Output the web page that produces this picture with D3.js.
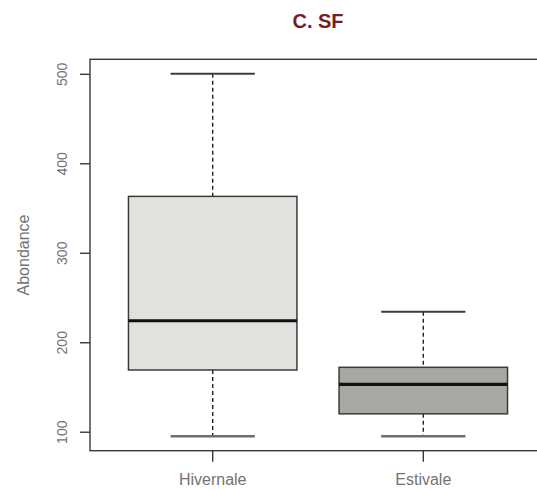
<!DOCTYPE html>
<html><head><meta charset="utf-8">
<script src="https://cdn.jsdelivr.net/npm/d3@7"></script>
<style>body{margin:0;background:#fff;} svg{display:block;}</style>
</head><body>
<script>
const categories = ["Hivernale", "Estivale"];
const whiskerLow = [95, 95];
const q1 = [169, 120];
const median = [224, 153];
const q3 = [363, 172];
const whiskerHigh = [500, 234];
const fills = ["#e1e1de", "#a9a7a3"];
const yTicks = [100, 200, 300, 400, 500];
const title = "C. SF";
const yLabel = "Abondance";

const W = 537, H = 490;
const svg = d3.select("body").append("svg").attr("width", W).attr("height", H);
const plot = {left: 90, right: 546, top: 59.3, bottom: 450.7};

const y = d3.scaleLinear().domain([78.8, 516.2]).range([plot.bottom, plot.top]);
const x = d3.scaleBand().domain(categories).range([107.4, 528.6]).paddingInner(0.2).paddingOuter(0.1);

const txt = "#737373", ink = "#3a3a3a";
const font = "'Liberation Sans', Arial, sans-serif";

// frame
svg.append("rect").attr("x", plot.left).attr("y", plot.top)
  .attr("width", plot.right - plot.left).attr("height", plot.bottom - plot.top)
  .attr("fill", "none").attr("stroke", ink).attr("stroke-width", 1.4);

// y axis
const yAxis = svg.append("g").attr("transform", `translate(${plot.left},0)`)
  .call(d3.axisLeft(y).tickValues(yTicks).tickSize(10).tickPadding(0).tickFormat(d3.format("d")));
yAxis.select(".domain").remove();
yAxis.selectAll(".tick line").attr("stroke", ink).attr("stroke-width", 1.4);
yAxis.selectAll(".tick text").attr("fill", txt).attr("font-family", font).attr("font-size", 14)
  .attr("text-anchor", "middle").attr("transform", "rotate(-90)").attr("x", 0).attr("y", -28).attr("dy", "0.35em");

// x axis
const xAxis = svg.append("g").attr("transform", `translate(0,${plot.bottom})`)
  .call(d3.axisBottom(x).tickSize(11).tickPadding(12));
xAxis.select(".domain").remove();
xAxis.selectAll(".tick line").attr("stroke", ink).attr("stroke-width", 1.4);
xAxis.selectAll(".tick text").attr("fill", txt).attr("font-family", font).attr("font-size", 16);

// boxes
const data = categories.map((c, i) => ({c, lo: whiskerLow[i], q1: q1[i], med: median[i], q3: q3[i], hi: whiskerHigh[i], fill: fills[i]}));
const g = svg.append("g");
data.forEach(d => {
  const cx = x(d.c) + x.bandwidth() / 2;
  const bw = x.bandwidth();
  const cap = bw / 2;
  // whiskers
  g.append("line").attr("x1", cx).attr("x2", cx).attr("y1", y(d.hi)).attr("y2", y(d.q3))
    .attr("stroke", "#222").attr("stroke-width", 1.4).attr("stroke-dasharray", "4,3");
  g.append("line").attr("x1", cx).attr("x2", cx).attr("y1", y(d.q1)).attr("y2", y(d.lo))
    .attr("stroke", "#222").attr("stroke-width", 1.4).attr("stroke-dasharray", "4,3");
  // caps
  g.append("line").attr("x1", cx - cap / 2).attr("x2", cx + cap / 2).attr("y1", y(d.hi)).attr("y2", y(d.hi))
    .attr("stroke", "#3c3c3c").attr("stroke-width", 2);
  g.append("line").attr("x1", cx - cap / 2).attr("x2", cx + cap / 2).attr("y1", y(d.lo)).attr("y2", y(d.lo))
    .attr("stroke", "#6e6e6e").attr("stroke-width", 2.6);
  // box
  g.append("rect").attr("x", cx - bw / 2).attr("width", bw).attr("y", y(d.q3)).attr("height", y(d.q1) - y(d.q3))
    .attr("fill", d.fill).attr("stroke", ink).attr("stroke-width", 1.5);
  // median
  g.append("line").attr("x1", cx - bw / 2).attr("x2", cx + bw / 2).attr("y1", y(d.med)).attr("y2", y(d.med))
    .attr("stroke", "#111").attr("stroke-width", 3.2);
});

// y label
svg.append("text").attr("transform", `translate(23,${(plot.top + plot.bottom) / 2}) rotate(-90)`)
  .attr("text-anchor", "middle").attr("dy", "0.35em").attr("fill", txt).attr("font-family", font).attr("font-size", 16)
  .text(yLabel);

// title
svg.append("text").attr("x", (plot.left + plot.right) / 2).attr("y", 21).attr("dy", "0.35em")
  .attr("text-anchor", "middle").attr("fill", "#7a1c26").attr("font-family", font).attr("font-weight", "bold")
  .attr("font-size", 20).text(title);
</script>
</body></html>
